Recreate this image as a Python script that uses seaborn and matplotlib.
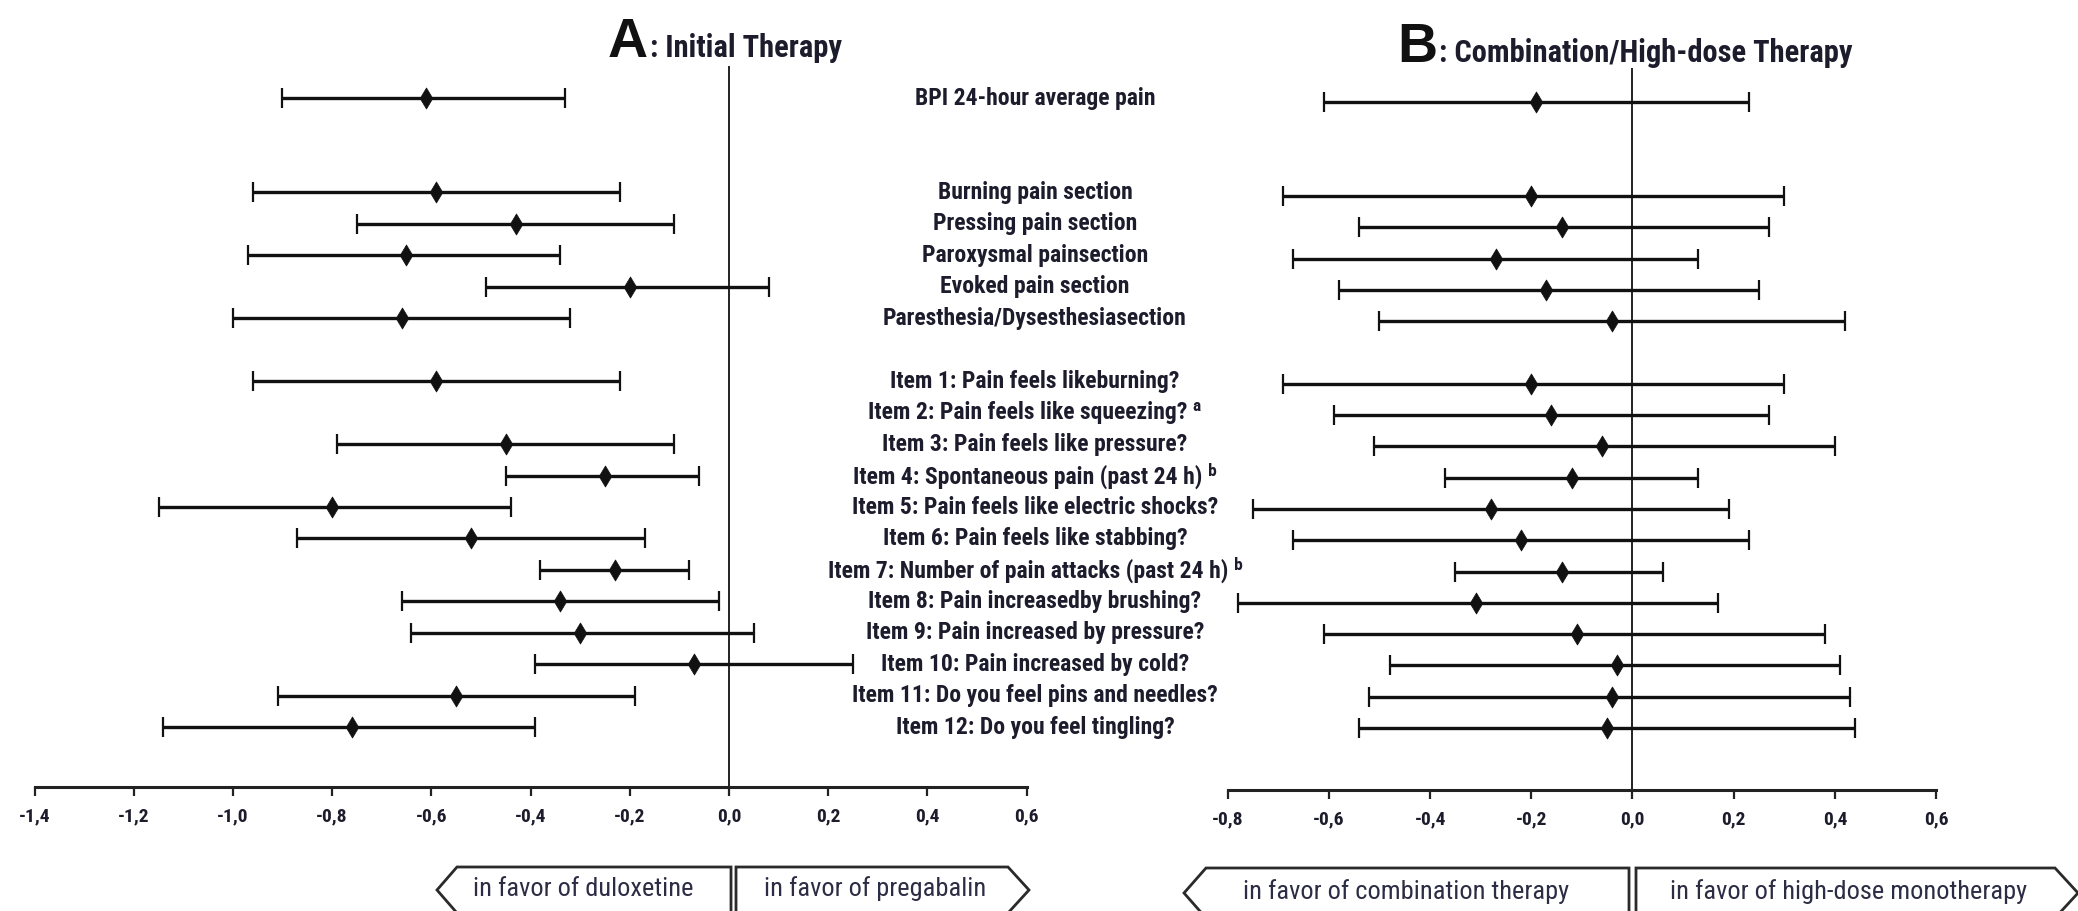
import numpy as np
import pandas as pd
import matplotlib
matplotlib.use("Agg")
import matplotlib.pyplot as plt
import seaborn as sns
from matplotlib.patches import Polygon
from matplotlib.transforms import blended_transform_factory

# ---------------- data ----------------
outcomes = [
    "BPI 24-hour average pain",
    "Burning pain section",
    "Pressing pain section",
    "Paroxysmal painsection",
    "Evoked pain section",
    "Paresthesia/Dysesthesiasection",
    "Item 1: Pain feels likeburning?",
    "Item 2: Pain feels like squeezing? ᵃ",
    "Item 3: Pain feels like pressure?",
    "Item 4: Spontaneous pain (past 24 h) ᵇ",
    "Item 5: Pain feels like electric shocks?",
    "Item 6: Pain feels like stabbing?",
    "Item 7: Number of pain attacks (past 24 h) ᵇ",
    "Item 8: Pain increasedby brushing?",
    "Item 9: Pain increased by pressure?",
    "Item 10: Pain increased by cold?",
    "Item 11: Do you feel pins and needles?",
    "Item 12: Do you feel tingling?",
]
groups = ["BPI"] + ["Section"] * 5 + ["Item"] * 12

a_mean = [-0.61, -0.59, -0.43, -0.65, -0.20, -0.66, -0.59, np.nan, -0.45, -0.25,
          -0.80, -0.52, -0.23, -0.34, -0.30, -0.07, -0.55, -0.76]
a_low = [-0.90, -0.96, -0.75, -0.97, -0.49, -1.00, -0.96, np.nan, -0.79, -0.45,
         -1.15, -0.87, -0.38, -0.66, -0.64, -0.39, -0.91, -1.14]
a_high = [-0.33, -0.22, -0.11, -0.34, 0.08, -0.32, -0.22, np.nan, -0.11, -0.06,
          -0.44, -0.17, -0.08, -0.02, 0.05, 0.25, -0.19, -0.39]

b_mean = [-0.19, -0.20, -0.14, -0.27, -0.17, -0.04, -0.20, -0.16, -0.06, -0.12,
          -0.28, -0.22, -0.14, -0.31, -0.11, -0.03, -0.04, -0.05]
b_low = [-0.61, -0.69, -0.54, -0.67, -0.58, -0.50, -0.69, -0.59, -0.51, -0.37,
         -0.75, -0.67, -0.35, -0.78, -0.61, -0.48, -0.52, -0.54]
b_high = [0.23, 0.30, 0.27, 0.13, 0.25, 0.42, 0.30, 0.27, 0.40, 0.13,
          0.19, 0.23, 0.06, 0.17, 0.38, 0.41, 0.43, 0.44]

a_ticks = [-1.4, -1.2, -1.0, -0.8, -0.6, -0.4, -0.2, 0.0, 0.2, 0.4, 0.6]
b_ticks = [-0.8, -0.6, -0.4, -0.2, 0.0, 0.2, 0.4, 0.6]

a_favor = ["in favor of duloxetine", "in favor of pregabalin"]
b_favor = ["in favor of combination therapy", "in favor of high-dose monotherapy"]

# row positions: blank rows between groups
gap_before = {"Section": 2, "Item": 1}
rows, p, prev = [], -1, None
for g in groups:
    if prev is not None and g != prev:
        p += gap_before[g]
    p += 1
    rows.append(p)
    prev = g

dfA = pd.DataFrame({"outcome": outcomes, "row": rows, "mean": a_mean, "low": a_low, "high": a_high})
dfB = pd.DataFrame({"outcome": outcomes, "row": rows, "mean": b_mean, "low": b_low, "high": b_high})

# ---------------- style ----------------
sns.set_theme(style="white")
FONTS = ["Roboto Condensed", "Liberation Sans", "DejaVu Sans"]
BIG = ["Liberation Sans", "DejaVu Sans"]
plt.rcParams["font.family"] = FONTS
TXT = "#1c1c2c"

W, H = 2078, 911
fig = plt.figure(figsize=(W / 100, H / 100), dpi=100)


def fx(px):
    return px / W


def fy(py):
    return 1 - py / H


axA = fig.add_axes([fx(34.5), fy(787), fx(1026.5) - fx(34.5), fy(66) - fy(787)])
axB = fig.add_axes([fx(1227.7), fy(790), fx(1936) - fx(1227.7), fy(68) - fy(790)])


def draw_panel(ax, df, ticks, ylim):
    d = df.dropna()
    ax.errorbar(d["mean"], d["row"],
                xerr=[d["mean"] - d["low"], d["high"] - d["mean"]],
                fmt="none", ecolor="#111111", elinewidth=2.4, capsize=7,
                capthick=1.6, zorder=3)
    sns.scatterplot(data=d, x="mean", y="row", marker="d", s=115,
                    color="#111111", edgecolor="#111111", linewidth=0.5,
                    ax=ax, zorder=4, legend=False)
    ax.axvline(0, color="#111111", lw=1.3, zorder=1)
    ax.set_xlim(ticks[0], ticks[-1])
    ax.set_ylim(*ylim)
    for s in ["top", "left", "right"]:
        ax.spines[s].set_visible(False)
    ax.spines["bottom"].set_linewidth(2.2)
    ax.spines["bottom"].set_color("#222222")
    ax.set_xticks(ticks)
    ax.set_xticklabels([f"{t:.1f}".replace(".", ",") for t in ticks],
                       fontsize=14, fontweight="bold", color=TXT, family=FONTS)
    ax.tick_params(axis="x", direction="out", length=6.5, width=1.6,
                   color="#222222", pad=8, bottom=True)
    ax.set_yticks([])
    ax.set_xlabel("")
    ax.set_ylabel("")


draw_panel(axA, dfA, a_ticks, (21.9, -1.02))
draw_panel(axB, dfB, b_ticks, (21.98, -1.09))

# row labels in the middle
tr = blended_transform_factory(fig.transFigure, axA.transData)
for lab, r in zip(outcomes, rows):
    fig.text(fx(1035), r, lab, transform=tr, ha="center", va="center",
             fontsize=17, fontweight="bold", color=TXT, family=FONTS)

# titles
fig.text(fx(648), fy(57), "A", ha="right", va="baseline", fontsize=40,
         fontweight="bold", color="#111111", family=BIG)
fig.text(fx(650), fy(57), ": Initial Therapy", ha="left", va="baseline",
         fontsize=22, fontweight="bold", color=TXT, family=FONTS)
fig.text(fx(1437), fy(62), "B", ha="right", va="baseline", fontsize=40,
         fontweight="bold", color="#111111", family=BIG)
fig.text(fx(1439), fy(62), ": Combination/High-dose Therapy", ha="left",
         va="baseline", fontsize=22, fontweight="bold", color=TXT, family=FONTS)


# direction boxes
def arrow_box(x_point, x_corner, x_flat, y_top, y_mid, text, tx):
    y_bot = 2 * y_mid - y_top
    pts = [(x_point, y_mid), (x_corner, y_top), (x_flat, y_top),
           (x_flat, y_bot), (x_corner, y_bot)]
    poly = Polygon([(fx(a), fy(b)) for a, b in pts], closed=True,
                   transform=fig.transFigure, facecolor="white",
                   edgecolor="#2a2a2a", linewidth=2.0, clip_on=False)
    fig.add_artist(poly)
    fig.text(fx(tx), fy(y_mid - 1), text, ha="center", va="center",
             fontsize=19, color="#2c2c44", family=FONTS)


arrow_box(437, 457, 731, 867, 890, a_favor[0], 583)
arrow_box(1029, 1008, 736, 867, 890, a_favor[1], 875)
arrow_box(1184, 1206, 1629, 868, 893, b_favor[0], 1406)
arrow_box(2078, 2055, 1636, 868, 893, b_favor[1], 1849)

fig.savefig("out.png", dpi=100, facecolor="white")
